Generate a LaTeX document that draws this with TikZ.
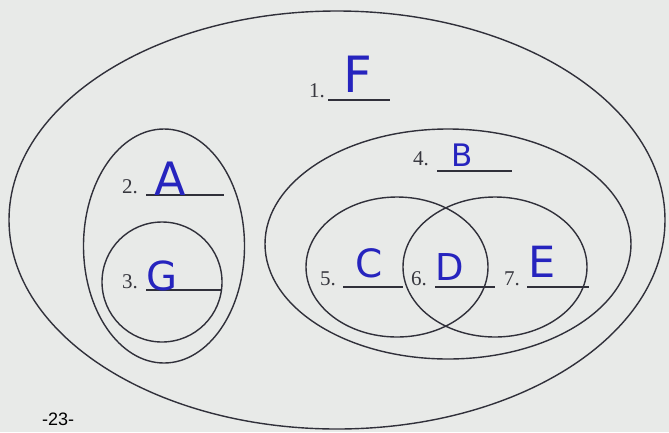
\documentclass[tikz,border=0pt]{standalone}
\usepackage{fontspec}
\setmainfont{Liberation Serif}
\newfontfamily\hand{DejaVu Sans}
\newfontfamily\pagefont{Liberation Sans}
\usetikzlibrary{shapes.geometric}
\definecolor{paper}{RGB}{232,234,232}
\definecolor{linec}{RGB}{48,48,58}
\definecolor{ansc}{RGB}{38,36,190}
\definecolor{numc}{RGB}{55,55,62}
\begin{document}
\begin{tikzpicture}[x=1pt,y=-1pt,
  setshape/.style={draw=linec, line width=1.4pt, ellipse, inner sep=0pt},
  num/.style={font=\fontsize{21}{21}\selectfont, text=numc, anchor=base west, inner sep=0pt},
  ans/.style={font=\hand\fontsize{#1}{#1}\selectfont, text=ansc, anchor=base, inner sep=0pt},
  blank/.style={draw=linec, line width=1.3pt}]
\fill[paper] (0,0) rectangle (669,432);
\useasboundingbox (0,0) rectangle (669,432);
% sets
\node[setshape, minimum width=656pt, minimum height=418pt] (F) at (337,220) {};
\node[setshape, minimum width=161pt, minimum height=234pt] (A) at (164,246) {};
\node[setshape, minimum width=120pt, minimum height=120pt] (G) at (162,282) {};
\node[setshape, minimum width=366pt, minimum height=230pt] (B) at (448,244) {};
\node[setshape, minimum width=182pt, minimum height=140pt] (C) at (397,267) {};
\node[setshape, minimum width=184pt, minimum height=140pt] (E) at (495,267) {};
% labels
\node[num] (n1) at (309,97) {1.};
\node[num] (n2) at (122,193) {2.};
\node[num] (n3) at (122,288) {3.};
\node[num] (n4) at (413,165) {4.};
\node[num] (n5) at (320,285) {5.};
\node[num] (n6) at (411,285) {6.};
\node[num] (n7) at (504,285) {7.};
% blanks
\draw[blank] (328,100) -- (390,100);
\draw[blank] (146,195) -- (224,195);
\draw[blank] (146,290) -- (222,290);
\draw[blank] (437,171) -- (512,171);
\draw[blank] (343,287) -- (403,287);
\draw[blank] (435,287) -- (495,287);
\draw[blank] (527,287) -- (589,287);
% answers
\node[ans=50] (aF) at (358,92) {F};
\node[ans=46] (aA) at (170,195) {A};
\node[ans=40] (aG) at (162,290) {G};
\node[ans=31] (aB) at (462,166) {B};
\node[ans=39] (aC) at (369,277) {C};
\node[ans=37] (aD) at (450,280) {D};
\node[ans=43] (aE) at (542,277) {E};
% page number
\node[font=\pagefont\fontsize{18}{18}\selectfont, text=black, anchor=south west, inner sep=0pt] (pg) at (42,426) {-23-};
\end{tikzpicture}
\end{document}
